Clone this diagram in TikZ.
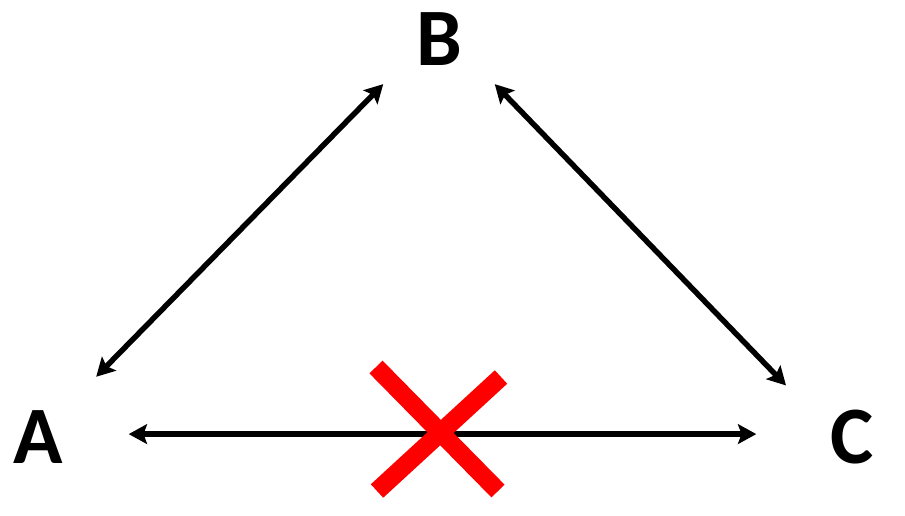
\documentclass[tikz,border=0pt]{standalone}
\usepackage{fontspec}
\setmainfont{Carlito}
\usetikzlibrary{arrows.meta}

\tikzset{
  letter/.style={circle, inner sep=0pt, font=\bfseries\fontsize{58}{60}\selectfont},
  cross/.style={draw=red, line width=13pt}
}

\begin{document}
\begin{tikzpicture}[x=0.025cm, y=-0.025cm, <->, >={Stealth[length=13pt,width=14pt,inset=2.5pt]}, line width=3.9pt]
\useasboundingbox (0,0) rectangle (905,515);
\node[letter, minimum size=4.05cm] (A) at (38,437) {A};
\node[letter, minimum size=3.45cm] (B) at (439,39) {B};
\node[letter, minimum size=4.05cm] (C) at (852,437) {C};

\path (A.46.5) edge (B.219)
      (B.-39.7) edge (C.142)
      (A.2) edge [shorten <=0.175cm, shorten >=0.3cm] (C.178);

% the crossed out link
\draw[cross, -] (376,367) -- (498,491);
\draw[cross, -] (501,377) -- (377,491);
\end{tikzpicture}
\end{document}
